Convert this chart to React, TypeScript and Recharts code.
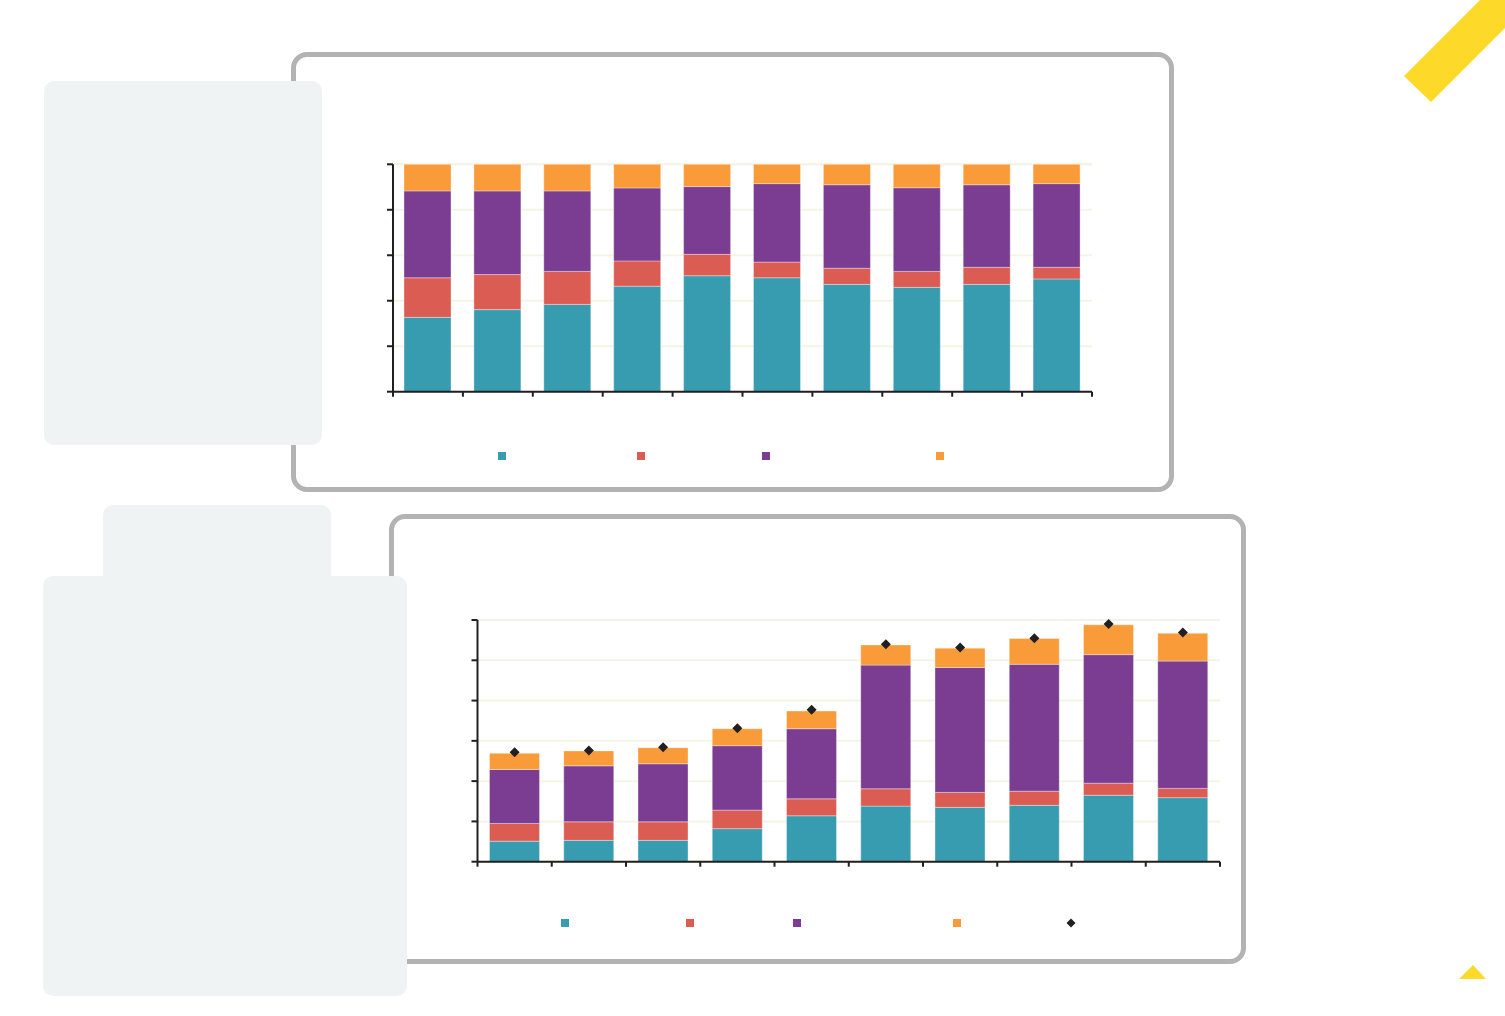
import React from 'react';
import { BarChart, ComposedChart, Bar, Line, XAxis, YAxis, CartesianGrid, Legend } from 'recharts';

// ---- Data: top chart (shares, %) ----
const topCategories = ['1', '2', '3', '4', '5', '6', '7', '8', '9', '10'];
const topTeal = [32.7, 36.1, 38.4, 46.4, 51.0, 50.1, 47.2, 45.9, 47.2, 49.6];
const topRed = [17.4, 15.4, 14.5, 11.1, 9.4, 6.9, 7.1, 7.0, 7.5, 5.1];
const topPurple = [38.2, 36.8, 35.4, 32.1, 29.8, 34.5, 36.7, 36.8, 36.3, 36.8];
const topOrange = [11.7, 11.7, 11.7, 10.4, 9.8, 8.5, 9.0, 10.3, 9.0, 8.5];
const topYTicks = [0, 20, 40, 60, 80, 100];

// ---- Data: bottom chart (levels) ----
const botCategories = ['1', '2', '3', '4', '5', '6', '7', '8', '9', '10'];
const botTeal = [5.1, 5.3, 5.3, 8.2, 11.4, 13.8, 13.5, 14.0, 16.5, 15.9];
const botRed = [4.4, 4.6, 4.6, 4.6, 4.2, 4.3, 3.7, 3.5, 3.0, 2.3];
const botPurple = [13.4, 13.9, 14.4, 16.0, 17.4, 30.7, 31.0, 31.5, 31.9, 31.6];
const botOrange = [4.0, 3.7, 4.0, 4.2, 4.4, 5.0, 4.8, 6.4, 7.4, 6.9];
const botTotal = [27.2, 27.6, 28.4, 33.1, 37.7, 54.0, 53.2, 55.5, 59.0, 56.9];
const botYTicks = [0, 10, 20, 30, 40, 50, 60];

const COLORS = {
  teal: '#389cb1',
  red: '#da5c52',
  purple: '#7a3d92',
  orange: '#f99b39',
  marker: '#231f20',
  axis: '#231f20',
  grid: '#f4f4e6',
};

const topData = topCategories.map((c, i) => ({
  name: c,
  teal: topTeal[i],
  red: topRed[i],
  purple: topPurple[i],
  orange: topOrange[i],
}));

const botData = botCategories.map((c, i) => ({
  name: c,
  teal: botTeal[i],
  red: botRed[i],
  purple: botPurple[i],
  orange: botOrange[i],
  total: botTotal[i],
}));

const Diamond = (props: any) => {
  const { cx, cy } = props;
  if (cx == null || cy == null) return null;
  const r = 5;
  return (
    <polygon
      points={`${cx},${cy - r} ${cx + r},${cy} ${cx},${cy + r} ${cx - r},${cy}`}
      fill={COLORS.marker}
    />
  );
};

const EmptyTick = () => <g />;

// tick marks at the category boundaries (between bars), derived from the axis band
const makeBoundaryTick = (count: number) => (props: any) => {
  const { x, y, payload } = props;
  const half = payload && payload.offset != null ? payload.offset : 0;
  const idx = payload && payload.index != null ? payload.index : props.index;
  const isLast = idx === count - 1;
  return (
    <g>
      <line x1={x - half} x2={x - half} y1={y} y2={y + 5} stroke={COLORS.axis} strokeWidth={2} />
      {isLast && <line x1={x + half} x2={x + half} y1={y} y2={y + 5} stroke={COLORS.axis} strokeWidth={2} />}
    </g>
  );
};

type LegendItem = { x: number; color: string; diamond?: boolean };

const makeLegend = (items: LegendItem[], chartLeft: number) => () => (
  <div style={{ position: 'relative', height: 0 }}>
    {items.map((it, i) =>
      it.diamond ? (
        <svg
          key={i}
          width={10}
          height={10}
          style={{ position: 'absolute', left: it.x - chartLeft - 5, top: -5 }}
        >
          <polygon points="5,0.5 9.5,5 5,9.5 0.5,5" fill={it.color} />
        </svg>
      ) : (
        <span
          key={i}
          style={{
            position: 'absolute',
            left: it.x - chartLeft - 4,
            top: -4,
            width: 8,
            height: 8,
            background: it.color,
          }}
        />
      )
    )}
  </div>
);

const TOP = { left: 300, top: 120, width: 820, height: 360 };
const BOT = { left: 400, top: 560, width: 840, height: 390 };

const topLegendItems: LegendItem[] = [
  { x: 502, color: COLORS.teal },
  { x: 641, color: COLORS.red },
  { x: 766, color: COLORS.purple },
  { x: 940, color: COLORS.orange },
];
const botLegendItems: LegendItem[] = [
  { x: 565, color: COLORS.teal },
  { x: 690, color: COLORS.red },
  { x: 797, color: COLORS.purple },
  { x: 957, color: COLORS.orange },
  { x: 1071, color: COLORS.marker, diamond: true },
];

const barStroke = 'rgba(255,255,255,0.35)';

const panelStyle = (left: number, top: number, width: number, height: number): React.CSSProperties => ({
  position: 'absolute',
  left,
  top,
  width,
  height,
  boxSizing: 'border-box',
  border: '5px solid #b3b3b3',
  borderRadius: 16,
  background: '#ffffff',
});

const greyBox = (left: number, top: number, width: number, height: number): React.CSSProperties => ({
  position: 'absolute',
  left,
  top,
  width,
  height,
  background: '#eff3f4',
  borderRadius: 10,
});

export default function App() {
  return (
    <div
      style={{
        position: 'absolute',
        left: 0,
        top: 0,
        width: 1505,
        height: 1016,
        background: '#ffffff',
        overflow: 'hidden',
        fontFamily: 'Roboto, sans-serif',
      }}
    >
      {/* panels */}
      <div style={panelStyle(291, 52, 883, 440)} />
      <div style={panelStyle(389, 514, 857, 450)} />

      {/* top chart */}
      <div style={{ position: 'absolute', left: TOP.left, top: TOP.top }}>
        <BarChart
          width={TOP.width}
          height={TOP.height}
          data={topData}
          margin={{ top: 44.3, right: 28, bottom: 78.3, left: 83 }}
        >
          <CartesianGrid vertical={false} stroke={COLORS.grid} strokeWidth={2} />
          <XAxis
            dataKey="name"
            height={10}
            interval={0}
            tickSize={0}
            tickMargin={0}
            tickLine={false}
            tick={makeBoundaryTick(topCategories.length)}
            axisLine={{ stroke: COLORS.axis, strokeWidth: 2 }}
          />
          <YAxis
            domain={[0, 100]}
            ticks={topYTicks}
            tick={EmptyTick}
            width={10}
            tickSize={6}
            axisLine={{ stroke: COLORS.axis, strokeWidth: 2 }}
            tickLine={{ stroke: COLORS.axis, strokeWidth: 2 }}
          />
          <Legend content={makeLegend(topLegendItems, TOP.left)} wrapperStyle={{ left: 0, top: 456 - TOP.top, width: TOP.width }} />
          <Bar dataKey="teal" stackId="a" fill={COLORS.teal} stroke={barStroke} barSize={47} isAnimationActive={false} />
          <Bar dataKey="red" stackId="a" fill={COLORS.red} stroke={barStroke} barSize={47} isAnimationActive={false} />
          <Bar dataKey="purple" stackId="a" fill={COLORS.purple} stroke={barStroke} barSize={47} isAnimationActive={false} />
          <Bar dataKey="orange" stackId="a" fill={COLORS.orange} stroke={barStroke} barSize={47} isAnimationActive={false} />
        </BarChart>
      </div>

      {/* bottom chart */}
      <div style={{ position: 'absolute', left: BOT.left, top: BOT.top }}>
        <ComposedChart
          width={BOT.width}
          height={BOT.height}
          data={botData}
          margin={{ top: 60, right: 20, bottom: 78.3, left: 67.5 }}
        >
          <CartesianGrid vertical={false} stroke={COLORS.grid} strokeWidth={2} />
          <XAxis
            dataKey="name"
            height={10}
            interval={0}
            tickSize={0}
            tickMargin={0}
            tickLine={false}
            tick={makeBoundaryTick(botCategories.length)}
            axisLine={{ stroke: COLORS.axis, strokeWidth: 2 }}
          />
          <YAxis
            domain={[0, 60]}
            ticks={botYTicks}
            tick={EmptyTick}
            width={10}
            tickSize={6}
            axisLine={{ stroke: COLORS.axis, strokeWidth: 2 }}
            tickLine={{ stroke: COLORS.axis, strokeWidth: 2 }}
          />
          <Legend content={makeLegend(botLegendItems, BOT.left)} wrapperStyle={{ left: 0, top: 923 - BOT.top, width: BOT.width }} />
          <Bar dataKey="teal" stackId="a" fill={COLORS.teal} stroke={barStroke} barSize={50} isAnimationActive={false} />
          <Bar dataKey="red" stackId="a" fill={COLORS.red} stroke={barStroke} barSize={50} isAnimationActive={false} />
          <Bar dataKey="purple" stackId="a" fill={COLORS.purple} stroke={barStroke} barSize={50} isAnimationActive={false} />
          <Bar dataKey="orange" stackId="a" fill={COLORS.orange} stroke={barStroke} barSize={50} isAnimationActive={false} />
          <Line
            dataKey="total"
            stroke="none"
            dot={<Diamond />}
            activeDot={false}
            legendType="diamond"
            isAnimationActive={false}
          />
        </ComposedChart>
      </div>

      {/* grey side boxes (on top of panel borders) */}
      <div style={greyBox(44, 81, 278, 364)} />
      <div style={greyBox(103, 505, 228, 100)} />
      <div style={greyBox(43, 576, 364, 420)} />

      {/* yellow decorations */}
      <svg width={1505} height={1016} style={{ position: 'absolute', left: 0, top: 0, pointerEvents: 'none' }}>
        <polygon points="1404,76 1480,0 1505,0 1505,28 1431,102" fill="#fdd92a" />
        <polygon points="1473,965 1486,979 1459,979" fill="#fdd92a" />
      </svg>
    </div>
  );
}
